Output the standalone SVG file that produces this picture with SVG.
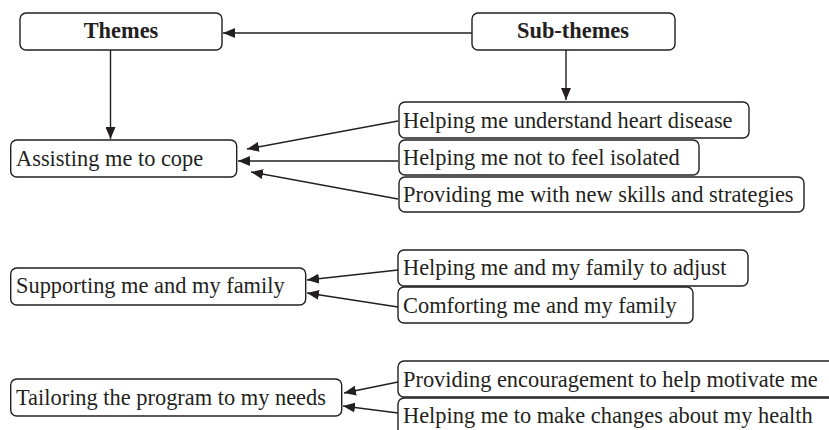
<svg xmlns="http://www.w3.org/2000/svg" width="829" height="430" viewBox="0 0 829 430">
<defs>
<style>
.box{fill:#fff;stroke:#231f20;stroke-width:1.4}
.t{font-family:"Liberation Serif","Times New Roman",serif;font-size:22.4px;fill:#231f20}
.h{font-weight:bold;text-anchor:middle}
.c{stroke:#231f20;stroke-width:1.4;fill:none;marker-end:url(#ah)}
</style>
<marker id="ah" markerUnits="userSpaceOnUse" markerWidth="12" markerHeight="10" viewBox="0 0 12 10" refX="12" refY="5" orient="auto">
<path d="M0,0 L12,5 L0,10 z" fill="#231f20"/>
</marker>
</defs>
<rect width="829" height="430" fill="#fff"/>
<g id="connectors">
<line class="c" x1="472" y1="33" x2="223" y2="33"/>
<line class="c" x1="110.5" y1="50" x2="110.5" y2="139"/>
<line class="c" x1="566" y1="50" x2="566" y2="100"/>
<line class="c" x1="398" y1="121" x2="247" y2="149"/>
<line class="c" x1="398" y1="161" x2="238" y2="161"/>
<line class="c" x1="398" y1="199" x2="251" y2="172"/>
<line class="c" x1="398" y1="270" x2="307" y2="280"/>
<line class="c" x1="398" y1="307" x2="307" y2="293"/>
<line class="c" x1="398" y1="382" x2="344" y2="393"/>
<line class="c" x1="398" y1="413" x2="343" y2="406"/>
</g>
<g id="themes"><rect class="box" x="20" y="13" width="202" height="37" rx="6"/><text class="t h" x="121" y="38">Themes</text></g>
<g id="subthemes"><rect class="box" x="472" y="13" width="203" height="37" rx="6"/><text class="t h" x="573" y="38">Sub-themes</text></g>
<g id="assisting"><rect class="box" x="10.7" y="140" width="226" height="37" rx="6"/><text class="t" x="16" y="166">Assisting me to cope</text></g>
<g id="supporting"><rect class="box" x="10.7" y="268" width="295" height="37" rx="6"/><text class="t" x="16" y="293">Supporting me and my family</text></g>
<g id="tailoring"><rect class="box" x="10.7" y="379" width="331" height="37" rx="6"/><text class="t" x="16" y="405">Tailoring the program to my needs</text></g>
<g id="understand"><rect class="box" x="399" y="102" width="350" height="36" rx="6"/><text class="t" x="403" y="128">Helping me understand heart disease</text></g>
<g id="isolated"><rect class="box" x="399" y="140" width="300" height="35" rx="6"/><text class="t" x="403" y="165">Helping me not to feel isolated</text></g>
<g id="skills"><rect class="box" x="399" y="177" width="405" height="35" rx="6"/><text class="t" x="403" y="202">Providing me with new skills and strategies</text></g>
<g id="adjust"><rect class="box" x="398" y="250" width="350" height="36" rx="6"/><text class="t" x="403" y="275">Helping me and my family to adjust</text></g>
<g id="comforting"><rect class="box" x="398" y="287" width="295" height="36" rx="6"/><text class="t" x="403" y="313">Comforting me and my family</text></g>
<g id="encouragement"><rect class="box" x="398" y="361" width="440" height="36" rx="6"/><text class="t" x="403" y="387">Providing encouragement to help motivate me</text></g>
<g id="health"><rect class="box" x="398" y="398" width="440" height="40" rx="6"/><text class="t" x="403" y="423">Helping me to make changes about my health</text></g>
</svg>
